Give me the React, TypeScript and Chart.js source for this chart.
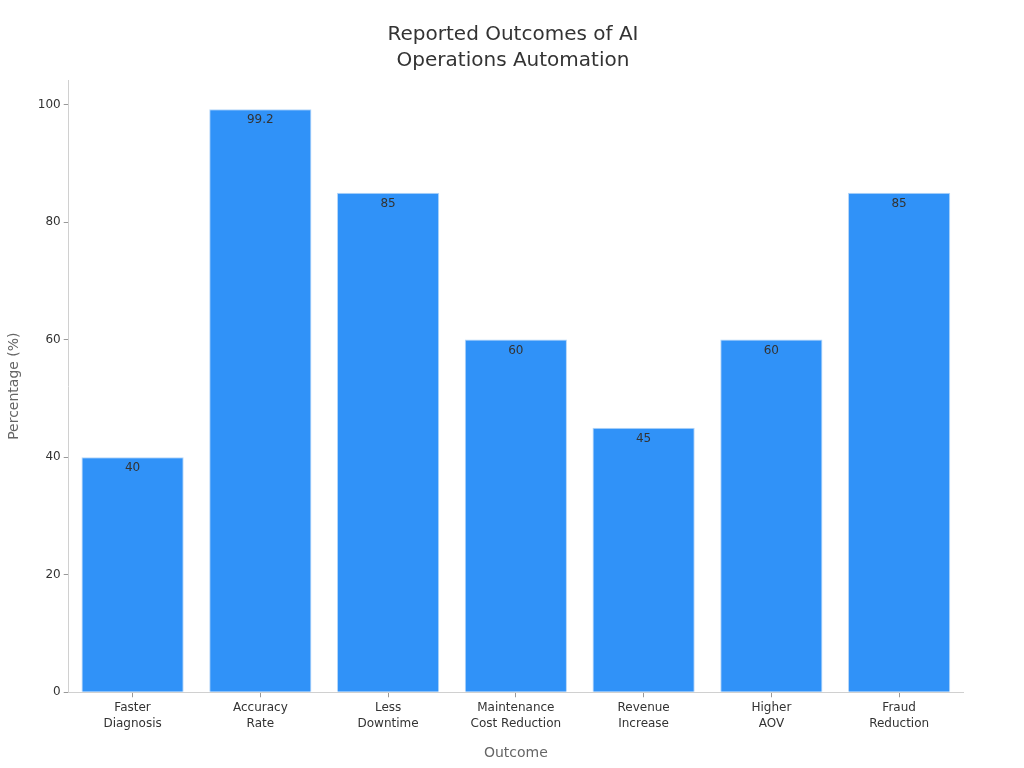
import React, { useEffect, useRef } from "react";
import { Chart, registerables } from "chart.js";

Chart.register(...registerables);

const categories: string[][] = [
  ["Faster", "Diagnosis"],
  ["Accuracy", "Rate"],
  ["Less", "Downtime"],
  ["Maintenance", "Cost Reduction"],
  ["Revenue", "Increase"],
  ["Higher", "AOV"],
  ["Fraud", "Reduction"],
];
const values: number[] = [40, 99.2, 85, 60, 45, 60, 85];
const yTicks: number[] = [0, 20, 40, 60, 80, 100];

const FONT = "'DejaVu Sans', sans-serif";

const valueLabels = {
  id: "valueLabels",
  afterDatasetsDraw(chart: any) {
    const ctx = chart.ctx;
    const meta = chart.getDatasetMeta(0);
    ctx.save();
    ctx.font = `12px ${FONT}`;
    ctx.fillStyle = "#333333";
    ctx.textAlign = "center";
    ctx.textBaseline = "top";
    meta.data.forEach((bar: any, i: number) => {
      ctx.fillText(String(values[i]), bar.x, bar.y + 5);
    });
    ctx.restore();
  },
};

export default function App() {
  const ref = useRef<HTMLCanvasElement>(null);
  useEffect(() => {
    document.body.style.margin = "0";
    const chart = new Chart(ref.current as HTMLCanvasElement, {
      type: "bar",
      data: {
        labels: categories,
        datasets: [
          {
            data: values,
            backgroundColor: "#3092F8",
            borderColor: "#B5D6F8",
            borderWidth: 1,
            barPercentage: 0.8,
            categoryPercentage: 1,
          },
        ],
      },
      options: {
        animation: false,
        responsive: false,
        layout: { padding: { left: 2, right: 0, top: 14, bottom: 2 } },
        plugins: {
          legend: { display: false },
          tooltip: { enabled: false },
          title: {
            display: true,
            text: ["Reported Outcomes of AI", "Operations Automation"],
            color: "#333333",
            font: { family: FONT, size: 20, weight: "normal", lineHeight: 1.3 },
            padding: { top: 8, bottom: 6 },
          },
        },
        scales: {
          x: {
            grid: { display: true, offset: false, drawOnChartArea: false, drawTicks: true, tickLength: 5, color: "#999999" },
            border: { display: true, color: "#D0D0D0" },
            ticks: { color: "#333333", font: { family: FONT, size: 12, lineHeight: 1.33 }, padding: 3 },
            title: {
              display: true,
              text: "Outcome",
              color: "#666666",
              font: { family: FONT, size: 14 },
              padding: { top: 10 },
            },
          },
          y: {
            min: 0,
            max: 104.16,
            grid: { display: true, drawOnChartArea: false, drawTicks: true, tickLength: 5, color: "#999999" },
            border: { display: true, color: "#D0D0D0" },
            afterBuildTicks: (scale: any) => {
              scale.ticks = yTicks.map((v) => ({ value: v }));
            },
            ticks: { color: "#333333", font: { family: FONT, size: 12 }, padding: 3 },
            title: {
              display: true,
              text: "Percentage (%)",
              color: "#666666",
              font: { family: FONT, size: 14 },
              padding: { top: 4, bottom: 12 },
            },
          },
          yRight: {
            position: "right",
            display: true,
            grid: { display: false, drawTicks: false },
            border: { display: false },
            ticks: { display: false },
            afterFit: (scale: any) => {
              scale.width = 61;
            },
          },
        },
      },
      plugins: [valueLabels],
    });
    return () => chart.destroy();
  }, []);
  return (
    <div style={{ width: 1024, height: 768 }}>
      <canvas ref={ref} width={1024} height={768} style={{ display: "block" }} />
    </div>
  );
}
